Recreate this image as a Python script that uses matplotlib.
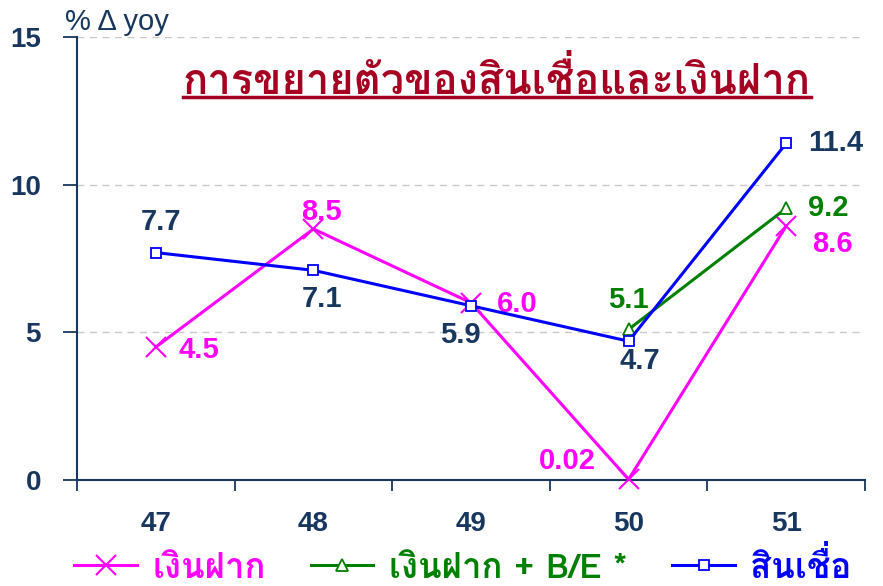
import numpy as np
import matplotlib
matplotlib.use("Agg")
import matplotlib.pyplot as plt
from matplotlib.lines import Line2D

# data
years = ["47", "48", "49", "50", "51"]
deposit = [4.5, 8.5, 6.0, 0.02, 8.6]
deposit_be = [np.nan, np.nan, np.nan, 5.1, 9.2]
credit = [7.7, 7.1, 5.9, 4.7, 11.4]

deposit_lbl = ["4.5", "8.5", "6.0", "0.02", "8.6"]
deposit_be_lbl = ["", "", "", "5.1", "9.2"]
credit_lbl = ["7.7", "7.1", "5.9", "4.7", "11.4"]

title = "การขยายตัวของสินเชื่อและเงินฝาก"
names = ["เงินฝาก", "เงินฝาก + B/E *", "สินเชื่อ"]

# Loma puts the tone mark high so เชื่อ shows without shaping
fams = ["Loma", "Noto Sans Thai Looped", "Liberation Sans", "DejaVu Sans"]

navy = "#17375E"
mag = "#FF00FF"
grn = "#008000"
blu = "#0000FF"
red = "#A50021"

fig = plt.figure(figsize=(8.83, 5.86), dpi=100)
ax = fig.add_axes([77/883, 1-480/586, 788/883, 443/586])
x = np.arange(len(years))

ax.plot(x, deposit, color=mag, lw=2.2, marker="x", ms=15, mew=1.5, label=names[0], zorder=3, clip_on=False)
ax.plot(x, deposit_be, color=grn, lw=2.2, marker="^", ms=8, mfc="white", mew=1.3, label=names[1], zorder=4)
ax.plot(x, credit, color=blu, lw=2.2, marker="s", ms=7, mfc="white", mew=1.3, label=names[2], zorder=5)

ax.set_xlim(-0.5, 4.5)
ax.set_ylim(0, 15)
ax.set_yticks([0, 5, 10, 15])
ax.yaxis.grid(True, ls=(0, (5, 4)), color="#C8C8C8", lw=1)
ax.set_axisbelow(True)
for s in ["top", "right"]:
    ax.spines[s].set_visible(False)
for s in ["left", "bottom"]:
    ax.spines[s].set_color(navy)
    ax.spines[s].set_linewidth(1.5)
ax.set_xticks(x)
ax.set_xticklabels(years)
ax.set_xticks(np.arange(-0.5, 5, 1), minor=True)
ax.tick_params(axis="x", which="major", length=0, pad=22)
ax.tick_params(axis="x", which="minor", length=8, width=1.3, color=navy, direction="out")
ax.tick_params(axis="y", length=10, width=1.3, color=navy, pad=16)
for t in ax.get_xticklabels() + ax.get_yticklabels():
    t.set_fontfamily("Liberation Sans")
    t.set_fontweight("bold")
    t.set_fontsize(20)
    t.set_color(navy)

fig.text(65/883, 1-22/586, "% Δ yoy", color=navy, fontsize=21, family="Liberation Sans", va="center", ha="left")

# value labels (offsets in points)
lab = dict(fontsize=21, fontweight="bold", family="Liberation Sans", va="center")
credit_off = [(4, 22, "center"), (6, -21, "center"), (-8, -21, "center"), (8, -14, "center"), (16, 0, "left")]
for i, v in enumerate(credit):
    dx, dy, ha = credit_off[i]
    ax.annotate(credit_lbl[i], (x[i], v), xytext=(dx, dy), textcoords="offset points", color=navy, ha=ha, **lab)
dep_off = [(16, -2, "left"), (6, 12, "center"), (33, -1, "center"), (-44, 13, "center"), (33, -13, "center")]
for i, v in enumerate(deposit):
    dx, dy, ha = dep_off[i]
    ax.annotate(deposit_lbl[i], (x[i], v), xytext=(dx, dy), textcoords="offset points", color=mag, ha=ha, **lab)
be_off = [None, None, None, (0, 21, "center"), (16, 0, "left")]
for i, v in enumerate(deposit_be):
    if deposit_be_lbl[i]:
        dx, dy, ha = be_off[i]
        ax.annotate(deposit_be_lbl[i], (x[i], v), xytext=(dx, dy), textcoords="offset points", color=grn, ha=ha, **lab)

t = fig.text(497/883, 1-80/586, title, color=red, fontsize=30, family=fams, fontweight="bold", ha="center", va="center")

leg = fig.legend(loc="center", bbox_to_anchor=(463/883, 1-565/586), ncol=3, frameon=False,
                 prop={"family": fams, "size": 25, "weight": "bold"}, handlelength=1.8,
                 columnspacing=1.3, handletextpad=0.45, borderpad=0.1)
for txt, c in zip(leg.get_texts(), [mag, grn, blu]):
    txt.set_color(c)

# underline under the title
fig.canvas.draw()
bb = t.get_window_extent()
fig.add_artist(Line2D([bb.x0 / fig.bbox.width, bb.x1 / fig.bbox.width],
                      [1 - 97/586] * 2, color=red, lw=2.5))

fig.savefig("out.png", dpi=100)
